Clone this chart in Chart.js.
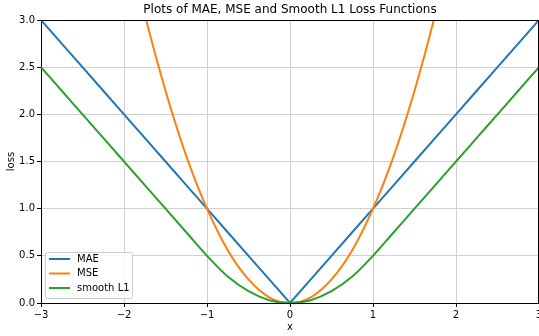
<!DOCTYPE html>
<html>
<head>
<meta charset="utf-8">
<script src="https://cdn.jsdelivr.net/npm/chart.js@4"></script>
<style>
  body { margin: 0; background: #fff; }
  #wrap { width: 539px; height: 336px; }
</style>
</head>
<body>
<div id="wrap"><canvas id="myChart" width="539" height="336"></canvas></div>
<script>
const xValues = [-3, -2.75, -2.5, -2.25, -2, -1.75, -1.5, -1.25, -1, -0.75, -0.5, -0.25, 0,
  0.25, 0.5, 0.75, 1, 1.25, 1.5, 1.75, 2, 2.25, 2.5, 2.75, 3];
const maeValues = [3, 2.75, 2.5, 2.25, 2, 1.75, 1.5, 1.25, 1, 0.75, 0.5, 0.25, 0,
  0.25, 0.5, 0.75, 1, 1.25, 1.5, 1.75, 2, 2.25, 2.5, 2.75, 3];
const mseValues = [9, 7.56, 6.25, 5.06, 4, 3.06, 2.25, 1.56, 1, 0.56, 0.25, 0.06, 0,
  0.06, 0.25, 0.56, 1, 1.56, 2.25, 3.06, 4, 5.06, 6.25, 7.56, 9];
const smoothValues = [2.5, 2.25, 2, 1.75, 1.5, 1.25, 1, 0.75, 0.5, 0.28, 0.125, 0.03, 0,
  0.03, 0.125, 0.28, 0.5, 0.75, 1, 1.25, 1.5, 1.75, 2, 2.25, 2.5];
const seriesNames = ['MAE', 'MSE', 'smooth L1'];
const seriesColors = ['#1f77b4', '#ff7f0e', '#2ca02c'];
const xTicks = [-3, -2, -1, 0, 1, 2, 3];
const yTicks = [0, 0.5, 1, 1.5, 2, 2.5, 3];

const toPoints = (ys) => xValues.map((x, i) => ({ x: x, y: ys[i] }));

// frame, title and legend drawn matplotlib-style
const decorations = {
  id: 'decorations',
  afterDatasetsDraw(chart) {
    const ctx = chart.ctx;
    const a = chart.chartArea;
    ctx.save();
    ctx.strokeStyle = '#000';
    ctx.lineWidth = 1;
    ctx.beginPath();
    ctx.moveTo(Math.round(a.left) + 0.5, Math.round(a.top) + 0.5);
    ctx.lineTo(Math.round(a.right) - 0.5, Math.round(a.top) + 0.5);
    ctx.lineTo(Math.round(a.right) - 0.5, Math.round(a.bottom) + 0.5);
    ctx.stroke();

    ctx.fillStyle = '#000';
    ctx.font = '12px "DejaVu Sans"';
    ctx.textAlign = 'center';
    ctx.textBaseline = 'middle';
    ctx.fillText('Plots of MAE, MSE and Smooth L1 Loss Functions', (a.left + a.right) / 2, 10);

    // legend box
    const bx = 45, by = 252, bw = 87, bh = 46;
    ctx.beginPath();
    ctx.roundRect(bx + 0.5, by + 0.5, bw, bh, 2);
    ctx.fillStyle = 'rgba(255,255,255,0.8)';
    ctx.fill();
    ctx.strokeStyle = '#cccccc';
    ctx.lineWidth = 1;
    ctx.stroke();
    ctx.font = '10px "DejaVu Sans"';
    ctx.textAlign = 'left';
    seriesNames.forEach((name, i) => {
      const y = by + 7 + i * 14.5;
      ctx.strokeStyle = seriesColors[i];
      ctx.lineWidth = 2;
      ctx.beginPath();
      ctx.moveTo(bx + 4, y);
      ctx.lineTo(bx + 25, y);
      ctx.stroke();
      ctx.fillStyle = '#000';
      ctx.fillText(name, bx + 32, y);
    });
    ctx.restore();
  }
};

const ctx = document.getElementById('myChart').getContext('2d');
const chart = new Chart(ctx, {
  type: 'line',
  data: {
    datasets: [
      { label: seriesNames[0], data: toPoints(maeValues), borderColor: seriesColors[0], order: 3 },
      { label: seriesNames[1], data: toPoints(mseValues), borderColor: seriesColors[1], order: 2, cubicInterpolationMode: 'monotone' },
      { label: seriesNames[2], data: toPoints(smoothValues), borderColor: seriesColors[2], order: 1, cubicInterpolationMode: 'monotone' },
    ],
  },
  options: {
    responsive: false,
    animation: false,
    layout: { padding: { top: 20, right: -1, left: 0, bottom: 0 } },
    elements: {
      point: { radius: 0 },
      line: { borderWidth: 2, fill: false },
    },
    plugins: {
      legend: { display: false },
      tooltip: { enabled: false },
    },
    scales: {
      x: {
        type: 'linear',
        min: -3,
        max: 3,
        afterBuildTicks: (scale) => { scale.ticks = xTicks.map(v => ({ value: v })); },
        afterFit: (scale) => { scale.height = 33; scale.paddingLeft = 0; scale.paddingRight = 0; },
        ticks: {
          font: { family: 'DejaVu Sans', size: 10 },
          color: '#000',
          padding: 2,
          maxRotation: 0,
          callback: (v) => String(v).replace('-', '\u2212'),
        },
        grid: { color: '#d0d0d0', lineWidth: 1, tickColor: '#000', tickLength: 4 },
        border: { color: '#000', width: 1 },
        title: { display: true, text: 'x', font: { family: 'DejaVu Sans', size: 10 }, color: '#000', padding: { top: 0, bottom: 3 } },
      },
      y: {
        type: 'linear',
        min: 0,
        max: 3,
        afterBuildTicks: (scale) => { scale.ticks = yTicks.map(v => ({ value: v })); },
        afterFit: (scale) => { scale.width = 41; scale.paddingTop = 0; scale.paddingBottom = 0; },
        ticks: {
          font: { family: 'DejaVu Sans', size: 10 },
          color: '#000',
          padding: 2,
          callback: (v) => Number(v).toFixed(1),
        },
        grid: { color: '#d0d0d0', lineWidth: 1, tickColor: '#000', tickLength: 4 },
        border: { color: '#000', width: 1 },
        title: { display: true, text: 'loss', font: { family: 'DejaVu Sans', size: 10 }, color: '#000', padding: { top: 5, bottom: 0 } },
      },
    },
  },
  plugins: [decorations],
});
</script>
</body>
</html>
